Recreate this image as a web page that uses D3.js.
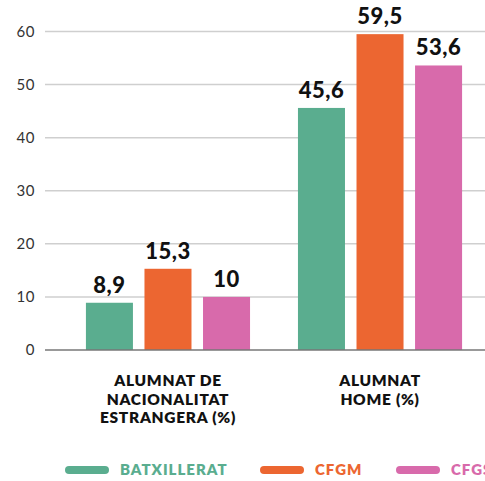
<!DOCTYPE html>
<html>
<head>
<meta charset="utf-8">
<script src="https://cdn.jsdelivr.net/npm/d3@7"></script>
<style>
  body { margin: 0; background: #fff; }
  svg { display: block; font-family: Lato, "Open Sans", sans-serif; }
</style>
</head>
<body>
<div id="chart"></div>
<script>
// dades
var categories = ["ALUMNAT DE NACIONALITAT ESTRANGERA (%)", "ALUMNAT HOME (%)"];
var categoryLines = [["ALUMNAT DE", "NACIONALITAT", "ESTRANGERA (%)"], ["ALUMNAT", "HOME (%)"]];
var series = ["BATXILLERAT", "CFGM", "CFGS"];
var batxillerat = [8.9, 45.6];
var cfgm = [15.3, 59.5];
var cfgs = [10, 53.6];
var yTicks = [0, 10, 20, 30, 40, 50, 60];
var colors = ["#5aad8f", "#ec6631", "#d86aab"];

var values = [batxillerat, cfgm, cfgs];

var width = 485;
var height = 481;

var svg = d3.select("#chart")
            .append("svg")
            .attr("width", width)
            .attr("height", height);

var y = d3.scaleLinear().domain([0, 60]).range([350, 31.5]);

var x0 = d3.scaleBand()
           .domain(categories)
           .range([45, 503])
           .paddingInner(0.226)
           .paddingOuter(0.193);

var x1 = d3.scaleBand()
           .domain(series)
           .range([0, x0.bandwidth()])
           .paddingInner(0.197);

var color = d3.scaleOrdinal().domain(series).range(colors);

// graella
var gGrid = svg.append("g");
gGrid.selectAll("line")
     .data(yTicks.filter(d => d > 0))
     .enter()
     .append("line")
     .attr("x1", 45)
     .attr("x2", width)
     .attr("y1", d => y(d))
     .attr("y2", d => y(d))
     .attr("stroke", "#cfcfcf")
     .attr("stroke-width", 1.5);

// etiquetes eix y
svg.append("g")
   .selectAll("text")
   .data(yTicks)
   .enter()
   .append("text")
   .attr("x", 35)
   .attr("y", d => y(d))
   .attr("dy", "0.36em")
   .attr("text-anchor", "end")
   .attr("fill", "#333")
   .style("font-size", "15px")
   .style("letter-spacing", "0.5px")
   .text(d => d);

// barres
var gGroups = svg.append("g")
                 .selectAll("g")
                 .data(categories)
                 .enter()
                 .append("g")
                 .attr("transform", d => `translate(${x0(d)},0)`);

var bars = gGroups.selectAll("g")
                  .data((c, i) => series.map((s, j) => ({ s: s, v: values[j][i] })))
                  .enter()
                  .append("g");

bars.append("rect")
    .attr("x", d => x1(d.s))
    .attr("y", d => y(d.v))
    .attr("width", x1.bandwidth())
    .attr("height", d => y(0) - y(d.v))
    .attr("fill", d => color(d.s));

bars.append("text")
    .attr("x", d => x1(d.s) + x1.bandwidth() / 2)
    .attr("y", d => y(d.v) - 10)
    .attr("text-anchor", "middle")
    .attr("fill", "#111")
    .style("font-size", "22px")
    .style("font-weight", "900")
    .style("letter-spacing", "0.5px")
    .text(d => String(d.v).replace(".", ","));

// eix x
svg.append("line")
   .attr("x1", 45)
   .attr("x2", width)
   .attr("y1", y(0))
   .attr("y2", y(0))
   .attr("stroke", "#777")
   .attr("stroke-width", 1.5);

// etiquetes categories
var gCat = svg.append("g")
              .selectAll("text")
              .data(categories)
              .enter()
              .append("text")
              .attr("x", d => x0(d) + x0.bandwidth() / 2)
              .attr("y", 386)
              .attr("text-anchor", "middle")
              .attr("fill", "#111")
              .style("font-size", "15.5px")
              .style("font-weight", "800")
              .style("letter-spacing", "0.7px");

gCat.selectAll("tspan")
    .data((d, i) => categoryLines[i])
    .enter()
    .append("tspan")
    .attr("x", function() { return d3.select(this.parentNode).attr("x"); })
    .attr("dy", (d, i) => i === 0 ? 0 : 18.5)
    .text(d => d);

// llegenda
var legendX = [65, 260, 396];
var gLegend = svg.append("g")
                 .selectAll("g")
                 .data(series)
                 .enter()
                 .append("g")
                 .attr("transform", (d, i) => `translate(${legendX[i]},470)`);

gLegend.append("line")
       .attr("x1", 4)
       .attr("x2", 40)
       .attr("stroke", d => color(d))
       .attr("stroke-width", 8)
       .attr("stroke-linecap", "round");

gLegend.append("text")
       .attr("x", 55)
       .attr("dy", "0.36em")
       .attr("fill", d => color(d))
       .style("font-size", "15px")
       .style("font-weight", "800")
       .style("letter-spacing", "1px")
       .text(d => d);
</script>
</body>
</html>
